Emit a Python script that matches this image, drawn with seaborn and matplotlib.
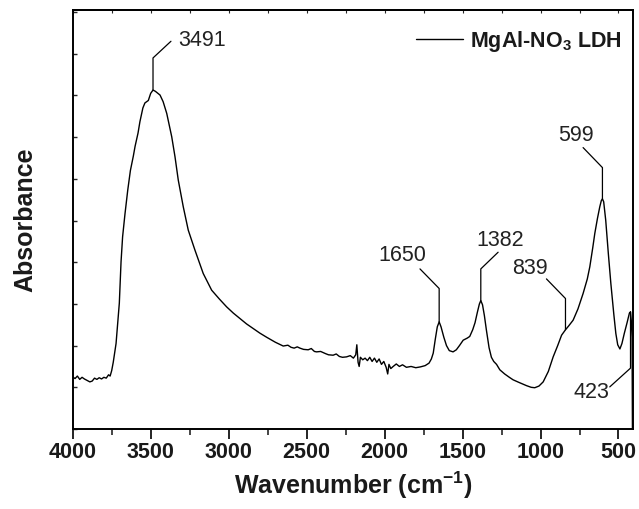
import numpy as np
import pandas as pd
import matplotlib
matplotlib.use("Agg")
import matplotlib.pyplot as plt
import seaborn as sns

# ---------------- data ----------------
wavenumber = [4000, 3985, 3970, 3955, 3940, 3925, 3905, 3890, 3875, 3860, 3845, 3830, 3815, 3800,
              3785, 3770, 3760, 3750, 3740, 3730, 3722, 3712, 3701, 3690, 3680, 3665, 3647, 3630,
              3611, 3600, 3581, 3569, 3550, 3537, 3515, 3500, 3485, 3470, 3440, 3420, 3397, 3365,
              3344, 3323, 3291, 3259, 3216, 3163, 3109, 3060, 3013, 2970, 2928, 2885, 2842, 2800,
              2756, 2700, 2650, 2620, 2600, 2580, 2560, 2543, 2520, 2490, 2470, 2450, 2436, 2410,
              2380, 2360, 2330, 2310, 2290, 2270, 2244, 2220, 2200, 2185, 2178, 2170, 2163, 2155,
              2140, 2125, 2110, 2095, 2080, 2065, 2050, 2035, 2020, 2005, 1990, 1980, 1972, 1960,
              1945, 1925, 1905, 1885, 1860, 1830, 1800, 1770, 1740, 1715, 1700, 1688, 1675, 1662,
              1650, 1638, 1620, 1603, 1585, 1561, 1540, 1520, 1496, 1470, 1454, 1435, 1420, 1405,
              1392, 1383, 1372, 1360, 1347, 1330, 1315, 1300, 1282, 1261, 1230, 1200, 1176, 1140,
              1090, 1060, 1037, 1010, 983, 950, 919, 890, 865, 850, 840, 820, 791, 760, 727, 700,
              684, 665, 652, 635, 620, 610, 603, 595, 582, 565, 549, 530, 517, 505, 491, 478, 463,
              445, 430, 423, 418, 413, 410]
absorbance = [1.25, 1.21, 1.27, 1.19, 1.24, 1.20, 1.16, 1.13, 1.15, 1.22, 1.19, 1.23, 1.20, 1.24,
              1.22, 1.30, 1.27, 1.40, 1.60, 1.85, 2.05, 2.50, 3.02, 4.01, 4.61, 5.15, 5.73, 6.20,
              6.55, 6.78, 7.10, 7.37, 7.70, 7.82, 7.88, 8.05, 8.13, 8.10, 8.01, 7.85, 7.57, 7.01,
              6.53, 5.97, 5.33, 4.77, 4.29, 3.73, 3.33, 3.12, 2.93, 2.78, 2.65, 2.52, 2.41, 2.30,
              2.20, 2.08, 1.99, 2.01, 1.96, 1.94, 1.97, 1.94, 1.91, 1.90, 1.93, 1.86, 1.85, 1.86,
              1.81, 1.78, 1.77, 1.80, 1.74, 1.72, 1.73, 1.76, 1.70, 1.78, 2.02, 1.60, 1.50, 1.72,
              1.66, 1.70, 1.64, 1.72, 1.62, 1.70, 1.60, 1.68, 1.55, 1.62, 1.48, 1.32, 1.55, 1.45,
              1.50, 1.56, 1.50, 1.54, 1.48, 1.50, 1.47, 1.49, 1.52, 1.58, 1.68, 1.82, 2.15, 2.45,
              2.57, 2.45, 2.20, 2.00, 1.88, 1.85, 1.90, 2.00, 2.13, 2.18, 2.22, 2.38, 2.55, 2.80,
              3.00, 3.08, 2.98, 2.72, 2.37, 1.95, 1.72, 1.62, 1.55, 1.42, 1.32, 1.24, 1.18, 1.12,
              1.04, 1.00, 0.99, 1.03, 1.13, 1.38, 1.73, 2.00, 2.25, 2.33, 2.38, 2.47, 2.61, 2.88,
              3.25, 3.60, 3.89, 4.35, 4.69, 5.05, 5.33, 5.48, 5.52, 5.45, 5.01, 4.20, 3.49, 2.75,
              2.29, 2.02, 1.92, 2.05, 2.29, 2.55, 2.78, 2.81, 2.60, 2.20, -0.50]

peak_labels = ["3491", "1650", "1382", "839", "599", "423"]
peak_wn = [3485, 1650, 1383, 840, 603, 423]

series_label = r"MgAl-NO$_\mathregular{3}$ LDH"
x_ticks = [4000, 3500, 3000, 2500, 2000, 1500, 1000, 500]

# ---------------- style ----------------
sns.set_theme(style="ticks")
plt.rcParams["font.family"] = ["Liberation Sans", "DejaVu Sans"]
plt.rcParams["mathtext.fontset"] = "custom"
plt.rcParams["mathtext.rm"] = "Liberation Sans:bold"
plt.rcParams["mathtext.bf"] = "Liberation Sans:bold"
plt.rcParams["mathtext.it"] = "Liberation Sans:bold"

df = pd.DataFrame({"wn": wavenumber, "A": absorbance})

fig = plt.figure(figsize=(6.39, 5.09), dpi=100)
ax = fig.add_axes([72.7 / 639, 80 / 509, (633 - 72.7) / 639, (429 - 10) / 509])

sns.lineplot(data=df, x="wn", y="A", ax=ax, color="black", linewidth=1.0,
             sort=False, label=series_label, legend=False)

ax.set_xlim(4000, 407)
ax.set_ylim(0, 10.05)

# annotation leader lines: vertical from peak, then diagonal to label
lead = {  # (vertical end y, diag end x, diag end y, text x, text y, ha)
    "3491": (8.90, 3370, 9.30, 3325, 9.33, "left"),
    "1650": (3.37, 1773, 3.84, 1887, 4.17, "center"),
    "1382": (3.84, 1272, 4.24, 1261, 4.53, "center"),
    "839": (3.13, 962, 3.60, 1069, 3.86, "center"),
    "599": (6.27, 727, 6.75, 771, 7.05, "center"),
    "423": (1.46, 556, 1.01, 671, 0.87, "center"),
}
for lab, wn in zip(peak_labels, peak_wn):
    y0 = float(np.interp(wn, wavenumber[::-1], absorbance[::-1]))
    vy, dx, dy, tx, ty, ha = lead[lab]
    ax.plot([wn, wn, dx], [y0, vy, dy], color="black", lw=0.9)
    ax.text(tx, ty, lab, ha=ha, va="center", fontsize=15.5, color="#222222")

# ticks
ax.set_xticks(x_ticks)
ax.set_xticks(np.arange(3750, 400, -500), minor=True)
ax.set_yticks(np.arange(0, 11, 1))
ax.set_yticklabels([])
ax.tick_params(axis="x", which="major", direction="out", length=7, width=1.2,
               labelsize=15.5, pad=2, colors="black")
ax.tick_params(axis="x", which="minor", direction="out", length=4, width=1.2)
ax.tick_params(axis="y", which="major", direction="in", length=3, width=1.0)
for t in ax.get_xticklabels():
    t.set_fontweight("bold")
    t.set_color("#1a1a1a")

sec = ax.secondary_xaxis("top")
sec.set_xticks(np.arange(4000, 400, -250))
sec.tick_params(direction="in", length=2, width=0.8, labeltop=False)

for s in ["left", "bottom", "right", "top"]:
    ax.spines[s].set_linewidth(1.4)
    ax.spines[s].set_color("black")
sec.spines["top"].set_linewidth(1.4)

ax.set_xlabel(r"Wavenumber (cm$^{-1}$)", fontsize=18, fontweight="bold", labelpad=5, color="#1a1a1a")
ax.set_ylabel("Absorbance", fontsize=18, fontweight="bold", labelpad=22, color="#1a1a1a")

leg = ax.legend(loc="center left", bbox_to_anchor=((416 - 72.7) / 560.3, (429 - 41) / 419),
                frameon=False, borderpad=0, borderaxespad=0, handlelength=2.2,
                handletextpad=0.3, prop={"size": 15.5, "weight": "bold"})
for t in leg.get_texts():
    t.set_color("#1a1a1a")

fig.savefig("out.png", dpi=100)
